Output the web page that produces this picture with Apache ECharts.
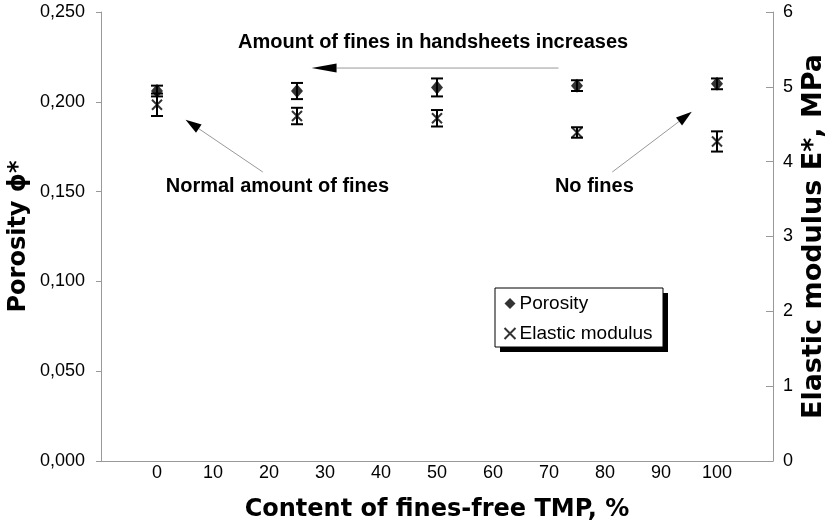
<!DOCTYPE html>
<html><head><meta charset="utf-8">
<script src="https://cdn.jsdelivr.net/npm/echarts@6/dist/echarts.min.js"></script>
<style>html,body{margin:0;padding:0;background:#fff}#c{width:825px;height:531px}</style>
</head><body><div id="c"></div>
<script>
const xs = [0, 25, 50, 75, 100];
const porosity = [0.206, 0.206, 0.208, 0.209, 0.210];
const porosityErr = [0.003, 0.0045, 0.005, 0.003, 0.003];
const modulus = [4.76, 4.61, 4.58, 4.39, 4.27];
const modulusErr = [0.15, 0.11, 0.11, 0.07, 0.135];
const leftTicks = [0, 0.05, 0.10, 0.15, 0.20, 0.25];
const rightTicks = [0, 1, 2, 3, 4, 5, 6];

const FONT = '"Liberation Sans", Arial, sans-serif';
const TFONT = '"DejaVu Sans", "Liberation Sans", sans-serif';
const chart = echarts.init(document.getElementById('c'));

function errSeries(vals, errs, yIdx, cap) {
  return {
    type: 'custom', yAxisIndex: yIdx, silent: true, z: 3,
    data: xs.map((x, i) => [x, vals[i] - errs[i], vals[i] + errs[i]]),
    renderItem: function (params, api) {
      const lo = api.coord([api.value(0), api.value(1)]);
      const hi = api.coord([api.value(0), api.value(2)]);
      const st = { stroke: '#000', lineWidth: 2 };
      return { type: 'group', children: [
        { type: 'line', shape: { x1: lo[0], y1: lo[1], x2: hi[0], y2: hi[1] }, style: st },
        { type: 'line', shape: { x1: lo[0] - cap, y1: lo[1], x2: lo[0] + cap, y2: lo[1] }, style: st },
        { type: 'line', shape: { x1: hi[0] - cap, y1: hi[1], x2: hi[0] + cap, y2: hi[1] }, style: st }
      ]};
    }
  };
}

const titleStyle = s => ({ fontSize: s, fontWeight: 'bold', color: '#000', fontFamily: TFONT });

const option = {
  animation: false,
  backgroundColor: '#fff',
  textStyle: { fontFamily: FONT },
  grid: { left: 101, right: 52, top: 12, bottom: 70, outerBoundsMode: 'none', containLabel: false },
  xAxis: {
    type: 'value', min: -10, max: 110, interval: 10,
    name: 'Content of fines-free TMP, %', nameLocation: 'middle', nameGap: 37,
    nameMoveOverlap: false,
    nameTextStyle: titleStyle(24),
    axisLine: { onZero: false, lineStyle: { color: '#999' } },
    axisTick: { show: false },
    splitLine: { show: false },
    axisLabel: { fontSize: 18, color: '#000', margin: 3, fontFamily: FONT,
      formatter: v => (v < 0 || v > 100) ? '' : String(v) }
  },
  yAxis: [{
    type: 'value', min: leftTicks[0], max: leftTicks[leftTicks.length - 1], interval: 0.05,
    name: 'Porosity ϕ*', nameLocation: 'middle', nameGap: 70,
    nameMoveOverlap: false,
    nameTextStyle: titleStyle(24),
    axisLine: { show: true, onZero: false, lineStyle: { color: '#999' } },
    axisTick: { show: true, length: 5, lineStyle: { color: '#999' } },
    splitLine: { show: false },
    axisLabel: { fontSize: 18, color: '#000', margin: 16, fontFamily: FONT,
      formatter: v => v.toFixed(3).replace('.', ',') }
  }, {
    type: 'value', min: rightTicks[0], max: rightTicks[rightTicks.length - 1], interval: 1,
    position: 'right',
    name: 'Elastic modulus E*, MPa', nameLocation: 'middle', nameGap: 27,
    nameRotate: 90, nameMoveOverlap: false,
    nameTextStyle: titleStyle(27),
    axisLine: { show: true, onZero: false, lineStyle: { color: '#999' } },
    axisTick: { show: true, inside: true, length: 7, lineStyle: { color: '#999' } },
    splitLine: { show: false },
    axisLabel: { fontSize: 18, color: '#000', margin: 10, fontFamily: FONT }
  }],
  legend: {
    orient: 'vertical', left: 502, top: 294,
    padding: 0, itemGap: 11, itemWidth: 11, itemHeight: 11,
    backgroundColor: 'transparent', borderWidth: 0, z: 12,
    textStyle: { fontSize: 19, color: '#000', fontFamily: FONT, padding: [0, 0, 0, -1] },
    data: ['Porosity', 'Elastic modulus']
  },
  series: [
    errSeries(porosity, porosityErr, 0, 6),
    errSeries(modulus, modulusErr, 1, 6),
    {
      name: 'Porosity', type: 'scatter', yAxisIndex: 0, z: 4,
      symbol: 'diamond', symbolSize: [12, 14],
      itemStyle: { color: '#000' },
      data: xs.map((x, i) => [x, porosity[i]])
    },
    {
      name: 'Elastic modulus', type: 'scatter', yAxisIndex: 1, z: 4,
      symbol: 'path://M0,0L10,10M10,0L0,10', symbolSize: 10,
      itemStyle: { color: 'none', borderColor: '#000', borderWidth: 2 },
      data: xs.map((x, i) => [x, modulus[i]])
    }
  ]
};
chart.setOption(option);

function arrow(tail, head, len, half) {
  const dx = head[0] - tail[0], dy = head[1] - tail[1];
  const L = Math.sqrt(dx * dx + dy * dy);
  const ux = dx / L, uy = dy / L;
  const bx = head[0] - ux * len, by = head[1] - uy * len;
  return [
    { type: 'line', z: 10, shape: { x1: tail[0], y1: tail[1], x2: bx, y2: by }, style: { stroke: '#999', lineWidth: 1 } },
    { type: 'polygon', z: 10, shape: { points: [head, [bx - uy * half, by + ux * half], [bx + uy * half, by - ux * half]] }, style: { fill: '#000' } }
  ];
}
const px = p => chart.convertToPixel({ xAxisIndex: 0, yAxisIndex: 0 }, p);
const g = [];
g.push(...arrow(px([71.7, 0.2188]), px([27.6, 0.2188]), 25, 4.5));
g.push(...arrow(px([18.9, 0.1609]), px([5.1, 0.1900]), 16, 5));
g.push(...arrow(px([81.3, 0.1609]), px([95.5, 0.1944]), 16, 5));
const tstyle = { fill: '#000', font: 'bold 20px ' + FONT, textAlign: 'center', textVerticalAlign: 'middle' };
const tp = (x, y) => px([x, y]);
[['Amount of fines in handsheets increases', tp(49.3, 0.2333)],
 ['Normal amount of fines', tp(21.5, 0.1531)],
 ['No fines', tp(78.1, 0.1531)]].forEach(([t, p]) => {
  g.push({ type: 'text', z: 10, x: p[0], y: p[1], style: Object.assign({ text: t }, tstyle) });
});
// legend frame with solid drop shadow
const lb = { x: 495, y: 288, w: 168, h: 59 };
g.push({ type: 'rect', z: 8, shape: { x: lb.x + 5, y: lb.y + 5, width: lb.w, height: lb.h }, style: { fill: '#000' } });
g.push({ type: 'rect', z: 9, shape: { x: lb.x, y: lb.y, width: lb.w, height: lb.h }, style: { fill: '#fff', stroke: '#000', lineWidth: 1 } });
chart.setOption({ graphic: g });
</script></body></html>
